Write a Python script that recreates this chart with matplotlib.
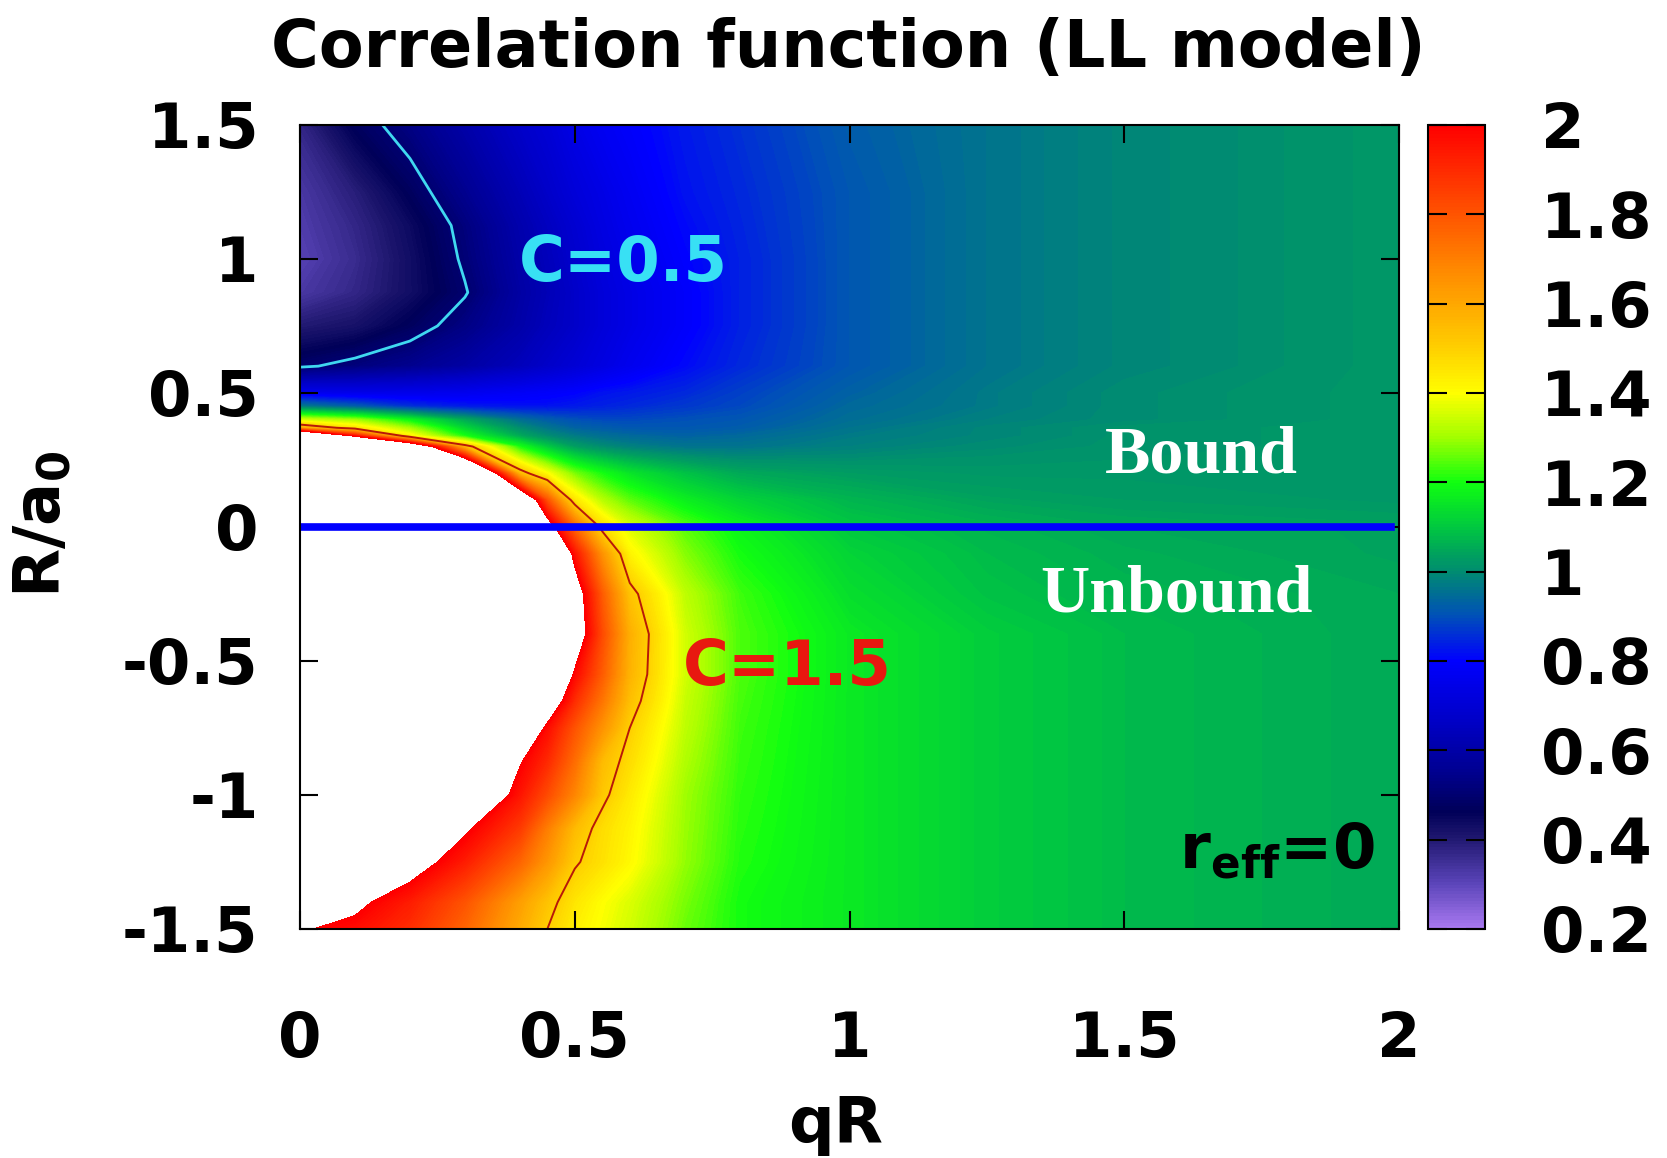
import numpy as np
import matplotlib
matplotlib.use("Agg")
import matplotlib.pyplot as plt
from matplotlib.colors import LinearSegmentedColormap, Normalize
from matplotlib.cm import ScalarMappable

# grid: qR columns, R/a0 rows, C values (>2 = white / off scale)
qr = [0, 0.1, 0.2, 0.3, 0.4, 0.45, 0.5, 0.55, 0.6, 0.7, 0.8, 1.0, 1.25, 1.5, 2.0]
ra0 = [1.5, 1.25, 1.125, 1.0, 0.875, 0.75, 0.6, 0.5, 0.45, 0.4, 0.37, 0.34, 0.3, 0.2,
       0.1, 0.0, -0.1, -0.25, -0.4, -0.55, -0.65, -0.75, -0.875, -1.0, -1.125, -1.25,
       -1.4, -1.5]
corr = [
    [0.37, 0.47, 0.53, 0.60, 0.67, 0.70, 0.74, 0.77, 0.79, 0.83, 0.86, 0.92, 0.96, 0.99, 1.02],
    [0.33, 0.39, 0.47, 0.55, 0.63, 0.67, 0.71, 0.74, 0.77, 0.82, 0.85, 0.91, 0.96, 0.99, 1.02],
    [0.32, 0.37, 0.44, 0.52, 0.61, 0.65, 0.69, 0.73, 0.76, 0.81, 0.845, 0.91, 0.96, 0.99, 1.02],
    [0.31, 0.36, 0.43, 0.51, 0.60, 0.64, 0.68, 0.72, 0.75, 0.80, 0.84, 0.91, 0.96, 0.99, 1.02],
    [0.33, 0.37, 0.43, 0.495, 0.59, 0.63, 0.67, 0.71, 0.74, 0.79, 0.84, 0.91, 0.96, 0.99, 1.02],
    [0.40, 0.42, 0.47, 0.53, 0.60, 0.64, 0.67, 0.71, 0.74, 0.79, 0.84, 0.91, 0.96, 0.99, 1.02],
    [0.49, 0.52, 0.55, 0.59, 0.64, 0.67, 0.70, 0.73, 0.76, 0.81, 0.85, 0.91, 0.96, 0.99, 1.02],
    [0.76, 0.75, 0.75, 0.76, 0.78, 0.79, 0.80, 0.82, 0.83, 0.85, 0.88, 0.93, 0.97, 1.00, 1.02],
    [0.97, 0.92, 0.86, 0.83, 0.82, 0.82, 0.83, 0.84, 0.85, 0.87, 0.89, 0.94, 0.97, 1.00, 1.02],
    [1.35, 1.30, 1.18, 1.05, 0.95, 0.92, 0.90, 0.89, 0.89, 0.90, 0.91, 0.95, 0.98, 1.00, 1.02],
    [1.60, 1.45, 1.30, 1.12, 1.00, 0.96, 0.93, 0.92, 0.91, 0.91, 0.92, 0.96, 0.99, 1.01, 1.02],
    [2.60, 1.95, 1.42, 1.20, 1.05, 1.00, 0.97, 0.95, 0.94, 0.93, 0.94, 0.97, 0.99, 1.01, 1.02],
    [3.60, 3.00, 2.30, 1.55, 1.20, 1.10, 1.03, 1.00, 0.98, 0.96, 0.96, 0.98, 1.00, 1.01, 1.02],
    [4.50, 4.20, 3.60, 2.60, 1.55, 1.40, 1.27, 1.20, 1.15, 1.09, 1.05, 1.03, 1.02, 1.02, 1.02],
    [5.00, 4.80, 4.20, 3.30, 2.30, 1.80, 1.45, 1.32, 1.25, 1.17, 1.12, 1.07, 1.04, 1.03, 1.02],
    [5.00, 4.80, 4.40, 3.70, 2.80, 2.10, 1.75, 1.47, 1.36, 1.25, 1.18, 1.10, 1.07, 1.05, 1.04],
    [5.00, 4.80, 4.40, 3.80, 3.05, 2.40, 1.95, 1.65, 1.42, 1.28, 1.20, 1.12, 1.08, 1.06, 1.04],
    [4.80, 4.60, 4.20, 3.70, 3.10, 2.60, 2.10, 1.78, 1.53, 1.33, 1.23, 1.14, 1.09, 1.07, 1.05],
    [4.40, 4.20, 3.90, 3.40, 2.85, 2.50, 2.12, 1.82, 1.58, 1.35, 1.24, 1.16, 1.11, 1.08, 1.05],
    [3.90, 3.70, 3.40, 3.00, 2.55, 2.30, 1.98, 1.78, 1.57, 1.35, 1.24, 1.16, 1.11, 1.08, 1.05],
    [3.65, 3.50, 3.20, 2.85, 2.40, 2.13, 1.89, 1.72, 1.54, 1.34, 1.235, 1.16, 1.11, 1.08, 1.05],
    [3.40, 3.25, 3.00, 2.65, 2.20, 1.97, 1.80, 1.65, 1.50, 1.33, 1.23, 1.16, 1.11, 1.08, 1.05],
    [3.00, 2.90, 2.70, 2.42, 2.01, 1.90, 1.74, 1.55, 1.47, 1.315, 1.225, 1.16, 1.11, 1.08, 1.05],
    [2.63, 2.55, 2.40, 2.20, 1.95, 1.82, 1.68, 1.52, 1.44, 1.30, 1.22, 1.16, 1.11, 1.08, 1.05],
    [2.45, 2.37, 2.23, 2.02, 1.86, 1.70, 1.55, 1.47, 1.42, 1.295, 1.215, 1.16, 1.11, 1.08, 1.05],
    [2.30, 2.20, 2.07, 1.93, 1.76, 1.64, 1.51, 1.46, 1.41, 1.29, 1.21, 1.16, 1.11, 1.08, 1.05],
    [2.08, 2.03, 1.93, 1.80, 1.62, 1.53, 1.45, 1.40, 1.36, 1.27, 1.20, 1.16, 1.11, 1.08, 1.05],
    [2.01, 1.97, 1.89, 1.76, 1.59, 1.50, 1.43, 1.39, 1.35, 1.26, 1.20, 1.16, 1.11, 1.08, 1.05],
]

# gnuplot-like palette
palette_values = [0.2, 0.3, 0.4, 0.46, 0.55, 0.65, 0.8, 0.9, 1.0, 1.05, 1.1, 1.2,
                  1.3, 1.4, 1.5, 1.6, 1.7, 1.8, 1.9, 2.0]
palette_colors = ["#a878f0", "#5a44b8", "#201870", "#000058", "#000090", "#0000c0",
                  "#0000ff", "#0050b8", "#008c70", "#00a858", "#00c840", "#10ff10",
                  "#a0ff00", "#ffff00", "#ffd000", "#ffa800", "#ff8000", "#ff5500",
                  "#ff2a00", "#ff0000"]

plt.rcParams["font.family"] = "DejaVu Sans"
plt.rcParams["font.weight"] = "bold"
plt.rcParams["mathtext.fontset"] = "dejavusans"

cmap = LinearSegmentedColormap.from_list(
    "ll", [((v - 0.2) / 1.8, c) for v, c in zip(palette_values, palette_colors)])
norm = Normalize(0.2, 2.0)

fig = plt.figure(figsize=(16.67, 11.58), dpi=100)
ax = fig.add_axes([0.18, 0.1978, 0.6593, 0.6943])
cax = fig.add_axes([0.8566, 0.1978, 0.0342, 0.6943])

X, Y = np.meshgrid(qr, ra0)
Z = np.array(corr)
ax.contourf(X, Y, Z, levels=np.linspace(0.2, 2.0, 721), cmap=cmap, norm=norm)
ax.contour(X, Y, Z, levels=[0.5], colors="#40d8f0", linewidths=2.0)
ax.contour(X, Y, Z, levels=[1.5], colors="#b81808", linewidths=1.4)
ax.axhline(0, xmin=0, xmax=0.993, color="#0000ff", lw=5.5, zorder=5)

ax.set_xlim(0, 2)
ax.set_ylim(-1.5, 1.5)
ax.set_xticks([0, 0.5, 1, 1.5, 2])
ax.set_xticklabels(["0", "0.5", "1", "1.5", "2"])
ax.set_yticks([-1.5, -1, -0.5, 0, 0.5, 1, 1.5])
ax.set_yticklabels(["-1.5", "-1", "-0.5", "0", "0.5", "1", "1.5"])
ax.tick_params(direction="in", top=True, right=True, length=13, width=1.5, labelsize=45)
ax.tick_params(axis="x", pad=58)
ax.tick_params(axis="y", pad=30)
for s in ax.spines.values():
    s.set_linewidth(1.5)
    s.set_zorder(6)

ax.text(0.588, 0.98, "C=0.5", color="#38e0f4", fontsize=45, ha="center", va="center")
ax.text(0.886, -0.526, "C=1.5", color="#e81810", fontsize=45, ha="center", va="center")
ax.text(1.641, 0.205, "Bound", color="white", fontsize=49, ha="center", va="baseline",
        family="Liberation Serif", weight="bold")
ax.text(1.594, -0.317, "Unbound", color="white", fontsize=49, ha="center", va="baseline",
        family="Liberation Serif", weight="bold")
ax.text(0.978, 0.076, r"r$_\mathbf{eff}$=0", transform=ax.transAxes, fontsize=45,
        ha="right", va="baseline")

fig.text(0.509, 0.942, "Correlation function (LL model)", ha="center", va="baseline", fontsize=47)
fig.text(0.501, 0.013, "qR", ha="center", va="baseline", fontsize=46)
fig.text(0.025, 0.547, r"$\mathbf{R/a_0}$", ha="center", va="center", rotation=90, fontsize=46)

cb = fig.colorbar(ScalarMappable(norm=norm, cmap=cmap), cax=cax,
                  ticks=[0.2, 0.4, 0.6, 0.8, 1.0, 1.2, 1.4, 1.6, 1.8, 2.0])
cb.ax.set_yticklabels(["0.2", "0.4", "0.6", "0.8", "1", "1.2", "1.4", "1.6", "1.8", "2"])
cax.tick_params(direction="in", left=True, right=True, length=14, width=1.5, labelsize=45, pad=40)
cb.outline.set_linewidth(1.5)

fig.savefig("out.png", dpi=100)
